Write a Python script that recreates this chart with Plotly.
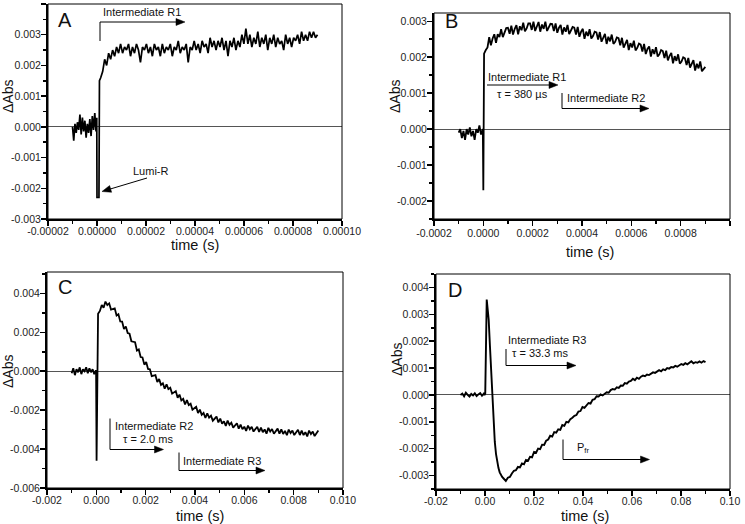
import numpy as np
import plotly.graph_objects as go

W, H = 745, 524

# ---------------- DATA (ΔAbs in units of 1e-3) ----------------
# Panel A (time in µs)
a_pre_t = (-10.0, -0.4)
a_pre = [0.0, -0.45, 0.1, -0.2, 0.15, -0.1, 0.4, -0.25, 0.3, -0.15, 0.2, -0.35, 0.1, -0.2, 0.25, -0.3, 0.35, -0.1, 0.45, -0.15]
a_spk_t = [-0.1, 0.0, 0.8, 1.0]
a_spk = [0.3, -2.3, -2.3, 1.5]
a_post_t = (1.5, 90.0)
a_post = [1.6, 1.8, 2.2, 2.0, 2.4, 2.2, 2.5, 2.3, 2.6, 2.4,
          2.7, 2.4, 2.6, 2.5, 2.7, 2.3, 2.6, 2.4, 2.7, 2.5,
          2.1, 2.6, 2.5, 2.7, 2.4, 2.6, 2.3, 2.7, 2.5, 2.6,
          2.3, 2.7, 2.4, 2.6, 2.5, 2.7, 2.3, 2.6, 2.5, 2.8,
          2.4, 2.6, 2.5, 2.7, 2.1, 2.6, 2.5, 2.8, 2.5, 2.7,
          2.4, 2.8, 2.6, 2.7, 2.4, 2.9, 2.6, 2.8, 2.5, 2.8,
          2.6, 2.9, 2.5, 2.8, 2.3, 2.8, 2.6, 2.9, 2.5, 2.8,
          2.6, 3.0, 2.7, 3.2, 2.7, 3.0, 2.6, 2.9, 2.7, 3.1,
          2.6, 2.9, 2.7, 3.0, 2.5, 2.9, 2.7, 3.0, 2.6, 2.9,
          2.7, 2.8, 2.5, 3.0, 2.7, 2.9, 2.6, 2.9, 2.8, 3.0,
          2.7, 3.1, 2.8, 3.0, 2.8, 3.1, 2.9, 3.1, 2.9, 3.0]

# Panel B (time in µs)
b_pre_t = (-100.0, -3.0)
b_pre = [-0.1, 0.0, -0.25, -0.05, -0.3, 0.0, -0.15, 0.05, -0.2, -0.05, -0.3, 0.0, -0.1, 0.1, -0.15, 0.0]
b_spk_t = [-2.0, 0.0, 3.0]
b_spk = [0.0, -1.7, 2.1]
b_post_t = (10.0, 900.0)
b_post = [2.2, 2.27, 2.56, 2.33, 2.52, 2.64, 2.4, 2.64, 2.56, 2.78,
          2.56, 2.67, 2.81, 2.82, 2.65, 2.88, 2.63, 2.79, 2.89, 2.64,
          2.86, 2.75, 2.96, 2.72, 2.8, 2.94, 2.94, 2.76, 2.99, 2.73,
          2.89, 2.98, 2.71, 2.91, 2.79, 2.99, 2.73, 2.81, 2.93, 2.92,
          2.73, 2.94, 2.68, 2.82, 2.9, 2.63, 2.83, 2.71, 2.9, 2.64,
          2.72, 2.84, 2.82, 2.63, 2.84, 2.57, 2.71, 2.79, 2.51, 2.71,
          2.59, 2.78, 2.52, 2.59, 2.71, 2.69, 2.49, 2.7, 2.43, 2.57,
          2.65, 2.37, 2.57, 2.44, 2.63, 2.37, 2.43, 2.55, 2.53, 2.33,
          2.54, 2.27, 2.4, 2.48, 2.2, 2.39, 2.27, 2.46, 2.19, 2.26,
          2.38, 2.35, 2.16, 2.37, 2.09, 2.23, 2.3, 2.02, 2.22, 2.09,
          2.28, 2.02, 2.08, 2.2, 2.17, 1.98, 2.18, 1.91, 2.04, 2.12,
          1.83, 2.03, 1.9, 2.08, 1.82, 1.88, 2.0, 1.97, 1.78, 1.98,
          1.71, 1.84, 1.92, 1.63, 1.82, 1.69, 1.88, 1.61, 1.68, 1.73]

# Panel C (time in ms)
c_pre_t = (-1.0, -0.02)
c_pre = [-0.1, 0.15, -0.2, 0.1, -0.05, 0.2, -0.15, 0.1, 0.0, 0.2, -0.1, 0.15, -0.05, 0.1, -0.15, 0.05]
c_spk_t = [-0.01, 0.01, 0.04]
c_spk = [0.0, -4.6, 2.7]
c_post_t = (0.07, 9.0)
c_post = [2.95, 3.1, 3.4, 3.26, 3.58, 3.4, 3.49, 3.17, 3.22, 3.23,
          2.86, 2.93, 2.56, 2.55, 2.17, 2.3, 1.96, 1.93, 1.54, 1.52,
          1.49, 1.06, 1.12, 0.73, 0.71, 0.34, 0.47, 0.12, 0.1, -0.25,
          -0.22, -0.2, -0.55, -0.4, -0.7, -0.62, -0.9, -0.67, -0.92, -0.85,
          -1.15, -1.08, -1.02, -1.36, -1.2, -1.5, -1.42, -1.71, -1.48, -1.74,
          -1.67, -1.98, -1.9, -1.83, -2.15, -1.97, -2.24, -2.14, -2.4, -2.16,
          -2.38, -2.28, -2.54, -2.43, -2.33, -2.63, -2.43, -2.69, -2.57, -2.81,
          -2.54, -2.75, -2.64, -2.9, -2.77, -2.67, -2.95, -2.74, -2.98, -2.85,
          -3.07, -2.79, -2.98, -2.85, -3.1, -2.96, -2.85, -3.12, -2.9, -3.13,
          -2.99, -3.21, -2.91, -3.1, -2.97, -3.21, -3.07, -2.95, -3.21, -2.99,
          -3.22, -3.07, -3.29, -3.0, -3.18, -3.05, -3.28, -3.14, -3.01, -3.28,
          -3.05, -3.28, -3.13, -3.35, -3.05, -3.23, -3.1, -3.33, -3.18, -3.05]

# Panel D (time in ms)
d_pre_t = (-10.0, -0.5)
d_pre = [0.0, 0.05, -0.05, 0.08, 0.0, -0.06, 0.04, -0.02, 0.06, -0.04, 0.02, 0.07, -0.03, 0.05]
d_spk_t = [-0.2, 0.1, 0.7, 1.0, 1.5, 2.0, 2.5, 3.0, 3.5, 4.0, 4.5, 5.0, 5.5, 6.0, 6.5, 7.0, 7.5, 8.0]
d_spk = [0.0, 0.05, 3.55, 3.3, 2.8, 1.85, 0.85, -0.1, -0.95, -1.75, -2.2, -2.5, -2.72, -2.88, -2.98, -3.05, -3.1, -3.15]
d_post_t = (8.5, 90.0)
d_post = [-3.2, -3.08, -3.05, -2.92, -2.82, -2.8, -2.68, -2.7, -2.55, -2.58,
          -2.42, -2.45, -2.3, -2.32, -2.12, -2.15, -2.0, -2.02, -1.85, -1.86,
          -1.7, -1.66, -1.52, -1.55, -1.38, -1.4, -1.28, -1.3, -1.12, -1.15,
          -1.0, -1.02, -0.9, -0.85, -0.78, -0.75, -0.62, -0.6, -0.45, -0.48,
          -0.38, -0.3, -0.32, -0.18, -0.16, -0.05, -0.06, 0.02, -0.02, 0.06,
          0.1, 0.08, 0.18, 0.22, 0.2, 0.28, 0.26, 0.35, 0.34, 0.44,
          0.42, 0.5, 0.52, 0.6, 0.55, 0.64, 0.6, 0.68, 0.72, 0.7,
          0.76, 0.74, 0.78, 0.84, 0.82, 0.86, 0.92, 0.88, 0.95, 0.92,
          1.0, 0.98, 1.04, 1.02, 1.08, 1.05, 1.1, 1.15, 1.12, 1.18,
          1.14, 1.2, 1.25, 1.18, 1.22, 1.2, 1.25, 1.2, 1.26, 1.22]

# Tick labels
a_xticks = ["-0.00002", "0.00000", "0.00002", "0.00004", "0.00006", "0.00008", "0.00010"]
a_yticks = ["-0.003", "-0.002", "-0.001", "0.000", "0.001", "0.002", "0.003", "0.004"]
b_xticks = ["-0.0002", "0.0000", "0.0002", "0.0004", "0.0006", "0.0008", "0.0010"]
b_yticks = ["-0.002", "-0.001", "0.000", "0.001", "0.002", "0.003"]
c_xticks = ["-0.002", "0.000", "0.002", "0.004", "0.006", "0.008", "0.010"]
c_yticks = ["-0.006", "-0.004", "-0.002", "0.000", "0.002", "0.004"]
d_xticks = ["-0.02", "0.00", "0.02", "0.04", "0.06", "0.08", "0.10"]
d_yticks = ["-0.003", "-0.002", "-0.001", "0.000", "0.001", "0.002", "0.003", "0.004"]


def build(pre_t, pre, spk_t, spk, post_t, post, tscale):
    t = np.concatenate([np.linspace(pre_t[0], pre_t[1], len(pre)),
                        np.array(spk_t, dtype=float),
                        np.linspace(post_t[0], post_t[1], len(post))]) * tscale
    y = np.concatenate([pre, spk, post]) * 1e-3
    return t, y


panels = [
    build(a_pre_t, a_pre, a_spk_t, a_spk, a_post_t, a_post, 1e-6),
    build(b_pre_t, b_pre, b_spk_t, b_spk, b_post_t, b_post, 1e-6),
    build(c_pre_t, c_pre, c_spk_t, c_spk, c_post_t, c_post, 1e-3),
    build(d_pre_t, d_pre, d_spk_t, d_spk, d_post_t, d_post, 1e-3),
]

# ---------------- LAYOUT ----------------
def px(x0, x1, y0, y1):
    return [x0 / W, x1 / W], [1 - y1 / H, 1 - y0 / H]

boxes = [px(48, 342, 4, 219), px(434, 730, 13, 219), px(47, 343, 272, 488), px(436, 730, 274, 489)]
xticks = [a_xticks, b_xticks, c_xticks, d_xticks]
yticks = [a_yticks, b_yticks, c_yticks, d_yticks]
xranges = [[-0.00002, 0.0001], [-0.0002, 0.001], [-0.002, 0.010], [-0.02, 0.10]]
yranges = [[-0.003, 0.004], [-0.0025, 0.00323], [-0.006, 0.0051], [-0.0035, 0.0045]]
xminor = [0.00001, 0.0001, 0.001, 0.01]
yminor = [0.0005, 0.0005, 0.001, 0.0005]
xstand = [-4, -2, -4, -4]
lw = [1.7, 1.8, 1.8, 1.9]

FONT = "Arial, Liberation Sans, sans-serif"
fig = go.Figure()
shapes = []
for i, (t, y) in enumerate(panels):
    n = "" if i == 0 else str(i + 1)
    fig.add_trace(go.Scatter(x=t, y=y, mode="lines", line=dict(color="black", width=lw[i]),
                             xaxis="x" + n, yaxis="y" + n, showlegend=False, hoverinfo="skip"))
    xd, yd = boxes[i]
    tickfont = dict(family=FONT, size=10.5, color="#222")
    xv = [float(s) for s in xticks[i]]
    yv = [float(s) for s in yticks[i]]
    fig.layout["xaxis" + n] = dict(
        domain=xd, anchor="y" + n, range=xranges[i], tickmode="array", tickvals=xv, ticktext=xticks[i],
        ticks="outside", ticklen=5, tickwidth=1.5, tickcolor="black", showline=True, linewidth=2,
        linecolor="black", mirror=False, showgrid=False, zeroline=False, tickfont=tickfont,
        automargin=False, ticklabelstandoff=xstand[i],
        minor=dict(ticks="outside", ticklen=3, tickwidth=1.5, tickcolor="black", dtick=xminor[i],
                   tick0=0, showgrid=False))
    fig.layout["yaxis" + n] = dict(
        domain=yd, anchor="x" + n, range=yranges[i], tickmode="array", tickvals=yv, ticktext=yticks[i],
        ticks="outside", ticklen=5, tickwidth=1.5, tickcolor="black", showline=True, linewidth=2,
        linecolor="black", mirror=False, showgrid=False, zeroline=True, zerolinecolor="#555",
        zerolinewidth=1, tickfont=tickfont, automargin=False, ticklabelstandoff=-2,
        minor=dict(ticks="outside", ticklen=3, tickwidth=1.5, tickcolor="black", dtick=yminor[i],
                   tick0=0, showgrid=False))
    shapes.append(dict(type="rect", xref="x" + n + " domain", yref="y" + n + " domain",
                       x0=0, x1=1, y0=0, y1=1, line=dict(color="black", width=1), layer="above"))


def P(x, y):
    return x / W, 1 - y / H


annotations = []


def text(x, y, s, size=11, angle=0):
    px_, py_ = P(x, y)
    annotations.append(dict(x=px_, y=py_, xref="paper", yref="paper", text=s, showarrow=False,
                            font=dict(family=FONT, size=size, color="#111"), textangle=angle,
                            xanchor="center", yanchor="middle", borderpad=0))


def seg(x0, y0, x1, y1):
    a, b = P(x0, y0)
    c, d = P(x1, y1)
    shapes.append(dict(type="line", xref="paper", yref="paper", x0=a, x1=c, y0=b, y1=d,
                       line=dict(color="black", width=1)))


def arrow(tx, ty, hx, hy, hl=9.0, hw=3.5):
    dx, dy = hx - tx, hy - ty
    L = (dx * dx + dy * dy) ** 0.5
    ux, uy = dx / L, dy / L
    bx, by = hx - hl * ux, hy - hl * uy
    nx, ny = -uy, ux
    seg(tx, ty, bx + 1 * ux, by + 1 * uy)
    pts = [(hx, hy), (bx + hw * nx, by + hw * ny), (bx - hw * nx, by - hw * ny)]
    path = "M " + " L ".join("%.5f,%.5f" % P(x, y) for x, y in pts) + " Z"
    shapes.append(dict(type="path", xref="paper", yref="paper", path=path,
                       fillcolor="black", line=dict(color="black", width=0.5)))


# axis titles
for (x, y) in [(8, 97), (395, 97), (8, 372), (397, 360)]:
    text(x, y, "ΔAbs", size=14, angle=-90)
for (x, y) in [(195, 245), (590, 252), (200, 516), (585, 516)]:
    text(x, y, "time (s)", size=14.5)

# panel letters
text(65, 20, "A", size=20)
text(451, 21, "B", size=20)
text(65, 287, "C", size=20)
text(455, 290, "D", size=20)

# Panel A annotations
text(142, 12, "Intermediate R1")
seg(100, 41, 100, 22)
arrow(100, 22, 185, 22)
text(151, 171, "Lumi-R")
arrow(147, 178, 102, 191.5)

# Panel B annotations
text(527, 77, "Intermediate R1")
arrow(487, 85, 558, 85)
text(522, 94, "τ = 380 µs")
text(606, 98, "Intermediate R2")
seg(562, 93, 562, 108.5)
arrow(562, 108.5, 649, 108.5)

# Panel C annotations
text(154, 426, "Intermediate R2")
text(148, 439, "τ = 2.0 ms")
seg(110, 418.5, 110, 449.5)
arrow(110, 449.5, 163.5, 449.5)
text(222, 461, "Intermediate R3")
seg(179, 452.5, 179, 470.5)
arrow(179, 470.5, 265, 470.5)

# Panel D annotations
text(547, 340, "Intermediate R3")
text(540, 353, "τ = 33.3 ms")
seg(506, 349, 506, 365.5)
arrow(506, 365.5, 576, 365.5)
text(583, 448, "P<sub>fr</sub>")
seg(563, 439.5, 563, 459.5)
arrow(563, 459.5, 649.5, 459.5)

fig.update_layout(width=W, height=H, autosize=False,
                  margin=dict(l=0, r=0, t=0, b=0, pad=0, autoexpand=False),
                  paper_bgcolor="white", plot_bgcolor="white", shapes=shapes, annotations=annotations,
                  font=dict(family=FONT))
fig.write_html("out.html", config={"displayModeBar": False, "staticPlot": True},
               post_script="document.body.style.margin='0';")
